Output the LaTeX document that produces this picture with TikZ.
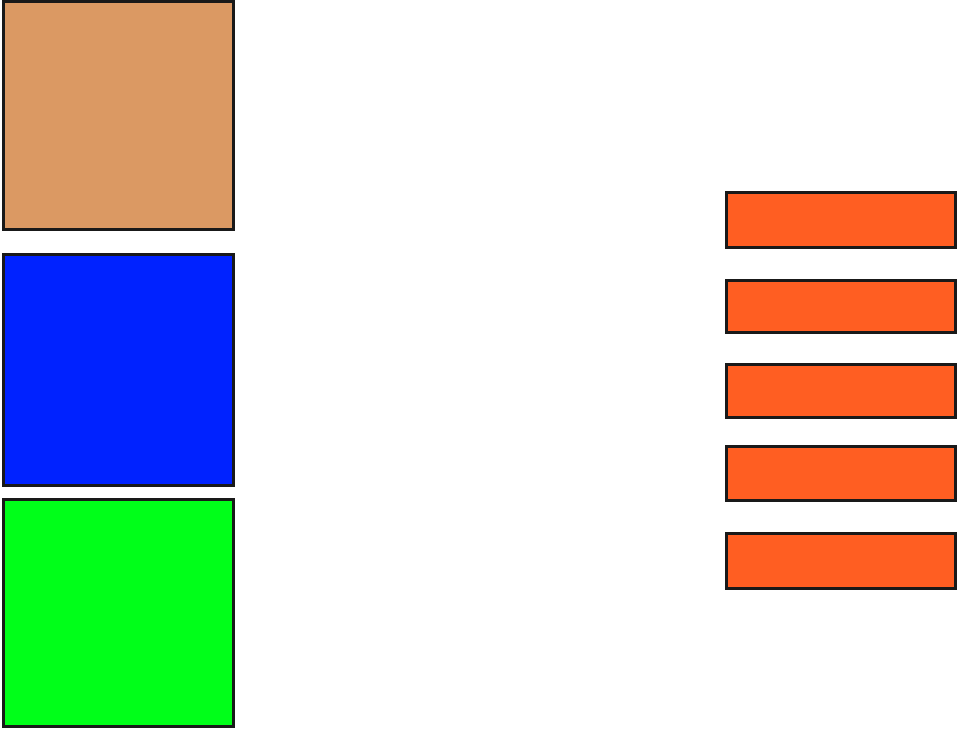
\documentclass[tikz,border=0pt]{standalone}
\definecolor{tanc}{RGB}{219,153,99}
\definecolor{bluec}{RGB}{0,34,255}
\definecolor{greenc}{RGB}{0,255,25}
\definecolor{orangec}{RGB}{255,94,34}
\begin{document}
\begin{tikzpicture}[x=1pt,y=-1pt,
  box/.style={draw=black!90, line width=3pt, inner sep=0pt, outer sep=0pt, rectangle},
  bar/.style={box, fill=orangec, minimum width=229pt}]
\useasboundingbox (0,0) rectangle (957,728);
\node[box, fill=tanc, minimum width=229.5pt, minimum height=228pt] (tan) at (118.25,115.5) {};
\node[box, fill=bluec, minimum width=229.5pt, minimum height=231pt] (blue) at (118.25,369.5) {};
\node[box, fill=greenc, minimum width=229.5pt, minimum height=227pt] (green) at (118.25,612.5) {};
\node[bar, minimum height=55pt] (b1) at (840.5,219.5) {};
\node[bar, minimum height=52pt] (b2) at (840.5,306) {};
\node[bar, minimum height=53pt] (b3) at (840.5,390.5) {};
\node[bar, minimum height=54pt] (b4) at (840.5,473) {};
\node[bar, minimum height=55pt] (b5) at (840.5,560.5) {};
\end{tikzpicture}
\end{document}
